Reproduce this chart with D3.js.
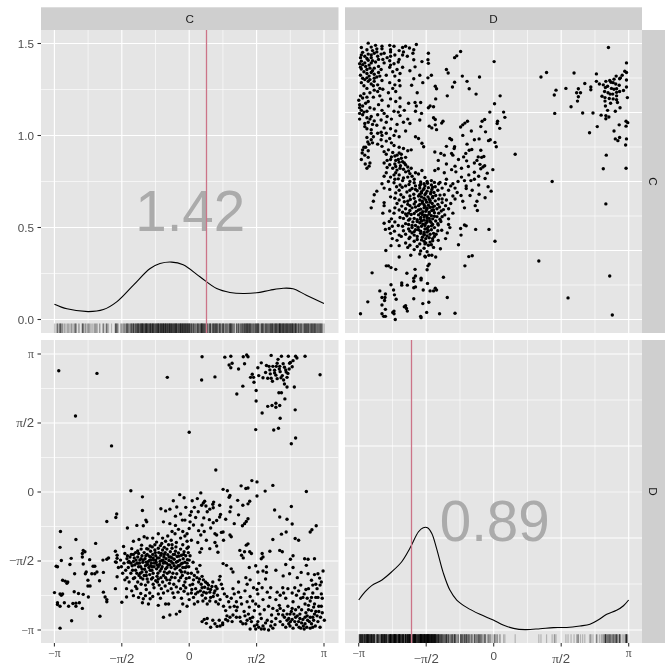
<!DOCTYPE html>
<html><head><meta charset="utf-8">
<script src="https://cdn.jsdelivr.net/npm/d3@7/dist/d3.min.js"></script>
<style>html,body{margin:0;padding:0;background:#fff}svg{display:block;filter:blur(0.35px)}</style>
</head><body><div id="c"></div>
<script>
const variables = ["C","D"];
const piTickLabels = ["−π","−π/2","0","π/2","π"];
const densityTicks = [0,0.5,1,1.5];
const correlations = {C:"1.42", D:"0.89"};
const meanLines = {C:0.41, D:-1.915};

const densityC = [[-3.14,.083],[-2.85,.058],[-2.35,.043],[-2.0,.054],[-1.69,.096],[-1.30,.187],[-.91,.277],[-.68,.304],[-.41,.312],[-.14,.297],[.25,.232],[.64,.168],[.95,.147],[1.26,.141],[1.57,.145],[1.88,.159],[2.19,.170],[2.42,.167],[2.73,.132],[3.14,.087]];
const densityD = [[-3.14,.163],[-2.99,.208],[-2.84,.241],[-2.6,.272],[-2.37,.317],[-2.14,.371],[-1.95,.444],[-1.75,.534],[-1.64,.556],[-1.54,.556],[-1.44,.525],[-1.33,.444],[-1.17,.308],[-1.02,.217],[-.86,.163],[-.63,.123],[-.32,.085],[-.01,.054],[.22,.027],[.46,.009],[.73,.002],[1.08,.007],[1.39,.013],[1.70,.014],[2.01,.022],[2.24,.031],[2.43,.054],[2.63,.085],[2.86,.107],[3.02,.132],[3.14,.163]];

// [C, D] observations, grouped by region of the picture
const topRightPairs = [[.30,3.08],[.29,2.55],[.60,2.62],[.83,3.07],[.97,3.09],[1.0,2.93],[.93,2.89],[.97,2.83],[1.15,2.80],[1.29,2.92],[1.26,3.08],[1.34,3.12],[1.37,3.08],[1.68,2.94],[1.60,2.83],[1.47,2.68],[1.43,2.61],[1.50,2.61],[1.51,2.50],[1.25,2.41],[1.11,2.23],[1.56,2.31],[1.56,2.07],[1.91,3.11],[1.86,2.86],[1.95,2.86],[2.03,2.86],[2.15,3.09],[2.31,3.09],[2.48,3.09],[2.51,3.05],[2.70,3.09],[2.42,2.99],[2.34,2.93],[2.22,2.84],[2.11,2.86],[2.07,3.02],[2.33,2.80],[2.26,2.73],[1.89,2.69],[1.99,2.77],[2.12,2.74],[2.17,2.65],[2.28,2.61],[1.83,2.59],[1.91,2.59],[2.05,2.58],[2.22,2.46],[2.28,2.39],[2.45,2.39],[2.15,2.26],[2.09,2.26],[2.23,2.12],[2.11,1.97],[2.02,2.02],[2.02,1.93],[1.93,1.97],[1.83,1.95],[1.70,1.80],[2.12,1.68],[2.47,1.87],[1.55,1.42],[1.97,1.41],[2.08,1.45],[2.48,1.23],[2.38,1.10],[3.05,2.67],[1.99,2.71],[2.2,2.55],[1.94,2.52],[2.36,2.95],[2.19,2.92],[1.78,2.72],[1.72,2.60],[2.1,2.8],[2.25,2.78],[2.02,2.66],[2.14,2.6],[1.88,2.78],[2.3,2.7],[2.4,2.85],[2.05,2.93],[1.8,2.88],[1.62,2.65]];
const isolatedPairs = [[-3.04,2.76],[-2.15,2.70],[-.51,2.61],[-2.65,1.73],[-1.81,1.05],[0,1.36],[.62,.50]];
const leftPairs = [[-3.0,-.90],[-3.01,-1.26],[-2.64,-1.08],[-2.75,-1.51],[-2.98,-1.56],[-3.10,-1.69],[-3.07,-1.70],[-2.78,-1.65],[-2.67,-1.86],[-2.95,-2.01],[-2.89,-2.03],[-2.83,-2.05],[-2.85,-2.08],[-2.68,-2.27],[-2.58,-2.31],[-2.47,-2.33],[-2.35,-2.39],[-3.14,-2.29],[-3.01,-2.32],[-2.95,-2.32],[-2.98,-2.35],[-3.07,-2.52],[-3.07,-2.56],[-3.01,-2.60],[-2.91,-2.52],[-2.81,-2.60],[-2.71,-2.54],[-2.64,-2.53],[-2.64,-2.60],[-2.56,-2.52],[-2.49,-2.65],[-2.74,-2.93],[-3.01,-3.10],[-2.08,-2.83],[-2.47,-1.33],[-2.43,-1.36],[-2.49,-1.40],[-2.49,-1.48],[-2.32,-1.54],[-2.18,-1.17],[-2.47,-1.64],[-2.20,-1.69],[-2.24,-1.69],[-2.40,-1.82],[-2.42,-1.86],[-2.36,-2.01],[-2.36,-2.14],[-2.27,-1.86],[-2.20,-1.86],[-2.09,-2.02],[-2.00,-1.83],[-2.00,-2.28],[-1.96,-2.39],[-1.92,-2.45],[-1.92,-2.50],[-2.01,-1.55],[-1.92,-1.53],[-1.88,-1.50],[-1.72,-1.35],[-1.68,-1.44],[-1.68,-1.51],[-1.72,-1.59],[-1.72,-2.20],[-1.68,-1.93],[-1.57,-2.51],[-1.46,-2.20],[-1.46,-2.39],[-1.30,-2.36],[-1.22,-2.20],[-1.07,-2.43],[-.91,-2.43],[-1.09,-2.52],[-1.30,-1.97],[-2.15,-1.82],[-2.31,-2.14],[-1.34,-2.25],[-1.13,-2.31],[-1.58,-1.7],[-1.7,-1.6],[-1.6,-1.55],[-1.65,-1.72],[-1.55,-1.85],[-1.5,-2.0],[-1.45,-1.95],[-1.4,-2.05],[-1.25,-2.15],[-1.18,-2.4],[-1.02,-2.36],[-.95,-2.55],[-.85,-2.38]];
const upperMidPairs = [[-1.36,.03],[-1.09,-.11],[-1.09,-.42],[-1.69,-.50],[-1.71,-.58],[-1.92,-.67],[-1.44,-.82],[-1.22,-.76],[-1.07,-.77],[-1.01,-.64],[-.99,-.68],[.79,.06],[.89,.03],[.95,-.08],[.93,-.12],[1.21,.14],[1.32,.08],[1.37,.09],[1.46,.26],[1.58,.23],[1.58,-.09],[1.77,.02],[1.95,.15],[2.73,.01],[2.38,-.33],[1.99,-.41],[2.11,-.57],[2.28,-.62],[2.40,-.73],[2.96,-.77],[2.86,-.86],[2.82,-.91],[2.47,-1.06],[2.55,-1.10],[2.26,-.91],[2.15,-.96],[1.95,-1.08],[-.22,-.06],[-.12,-.13],[.07,-.20],[.19,-.15],[.27,-.02],[.33,-.25],[.36,-.21],[.29,-.30],[.39,-.32],[.48,-.39],[.56,-.36],[.57,-.23],[.71,-.30],[.73,-.51],[.71,-.57],[.64,-.65],[.56,-.70],[.47,-.63],[.34,-.59],[.97,-.34],[.95,-.45],[1.13,-.19],[1.25,-.30],[1.37,-.27],[1.41,-.21],[1.15,-.52],[1.37,-.61],[1.33,-.67],[1.29,-.72],[1.24,-.77],[.79,-.91],[.75,-.92],[.95,-.98],[.98,-1.02],[.64,-.98],[.60,-.95],[.27,-.98],[-.37,-.20],[-.29,-.34],[-.45,-.39],[-.66,-.38],[-.55,-.43],[-.60,-.68],[-.32,-.76],[-.16,-.64],[-.10,-.64],[.02,-.68],[.02,-.53],[.05,-.45],[.21,-.45],[0,-.83],[-.32,-.55],[-.2,-.5],[.12,-.35],[.1,-.75],[.3,-.75],[-.45,-.72],[-.25,-.85],[-.05,-.95],[.22,-.88],[.4,-1.1],[-.15,-.9],[.55,-.28],[.42,-.45],[.85,-.62],[1.05,-.72],[.5,-.82],[.35,-.9],[-.08,-.35],[.15,-.58],[-.4,-.9],[.6,-1.15],[.8,-1.1],[.2,-1.15],[.05,-1.1]];
const centerPairs = [[-.76,-1.14],[-.64,-1.17],[-.91,-1.23],[-.99,-1.29],[-1.11,-1.21],[-1.17,-1.08],[-1.05,-1.02],[-.98,-1.05],[-1.30,-1.12],[-1.53,-1.24],[-1.34,-1.29],[-.85,-1.05],[-.72,-.95],[-.62,-1.05],[-.5,-1.0],[-.42,-1.1],[-.33,-.95],[-.2,-1.05],[-.1,-1.0],[-.05,-1.12],[-.55,-1.12],[-.4,-1.2],[-.3,-1.15],[-.15,-1.2],[-.02,-1.25],
[-1.5,-1.4],[-1.45,-1.52],[-1.52,-1.62],[-1.42,-1.72],[-1.48,-1.78],[-1.38,-1.48],[-1.35,-1.42],[-1.3,-1.58],[-1.33,-1.68],[-1.28,-1.5],[-1.25,-1.38],[-1.22,-1.62],[-1.25,-1.78],[-1.2,-1.48],[-1.18,-1.4],[-1.15,-1.55],[-1.18,-1.7],[-1.14,-1.85],[-1.12,-1.3],[-1.1,-1.45],[-1.08,-1.6],[-1.1,-1.75],[-1.05,-1.9],[-1.05,-1.38],[-1.03,-1.52],[-1.02,-1.68],[-1.0,-1.82],[-.98,-1.98],[-.98,-1.42],[-.96,-1.3],[-.95,-1.58],[-.94,-1.72],[-.92,-1.88],[-.9,-1.35],[-.9,-1.48],[-.88,-1.62],[-.87,-1.78],[-.86,-1.25],[-.85,-1.42],[-.83,-1.55],[-.82,-1.7],[-.8,-1.2],[-.8,-1.32],[-.78,-1.45],[-.77,-1.6],[-.76,-1.75],[-.75,-1.92],[-.74,-2.05],[-.72,-1.28],[-.71,-1.38],[-.7,-1.5],[-.69,-1.65],[-.68,-1.8],[-.67,-1.22],[-.66,-1.44],[-.64,-1.56],[-.63,-1.7],[-.62,-1.32],[-.6,-1.9],[-.59,-1.48],[-.58,-1.26],[-.57,-1.6],[-.56,-1.38],[-.55,-1.75],[-.54,-1.52],[-.52,-2.0],[-.52,-1.3],[-.5,-1.43],[-.49,-1.66],[-.48,-1.2],[-.47,-1.56],[-.46,-1.82],[-.44,-1.36],[-.43,-1.48],[-.42,-1.72],[-.41,-1.94],[-.4,-1.28],[-.38,-1.62],[-.37,-1.42],[-.36,-2.1],[-.35,-1.53],[-.33,-1.75],[-.32,-1.35],[-.31,-1.25],[-.3,-1.6],[-.29,-1.86],[-.28,-1.47],[-.26,-1.68],[-.25,-1.39],[-.24,-2.02],[-.22,-1.55],[-.21,-1.78],[-.2,-1.3],[-.19,-1.64],[-.18,-1.44],[-.16,-1.9],[-.15,-1.72],[-.14,-1.52],[-.13,-2.13],[-.12,-1.36],[-.1,-1.82],[-.1,-1.6],[-.08,-1.45],[-.07,-1.97],[-.06,-1.7],[-.05,-1.28],[-.04,-1.54],[-.03,-1.85],[-.02,-1.38],
[-1.42,-1.6],[-1.24,-1.55],[-1.17,-1.9],[-1.13,-1.95],[-1.08,-1.98],[-.96,-2.05],[-.88,-1.98],[-.84,-2.1],[-.82,-2.18],[-.78,-2.02],[-.7,-2.12],[-.65,-2.2],[-.62,-2.05],[-.56,-2.14],[-.5,-2.25],[-.46,-2.08],[-.42,-2.2],[-.38,-2.3],[-.3,-2.16],[-.26,-2.28],[-.2,-2.2],[-.12,-2.26],[-.08,-2.18],[-.03,-2.32],[-1.36,-1.85],[-1.27,-1.95],[-1.2,-2.05],[-1.12,-2.1],[-1.02,-2.12],[-1.0,-2.22],[-.92,-2.3],[-.72,-2.32],[-.6,-2.3],[-.67,-2.42],[-.55,-2.55],[-.15,-2.55],[-.35,-2.4],[-.18,-2.42],[-.6,-2.85],[-.45,-2.8],[-.3,-2.78],[-.22,-2.72],[-.05,-2.6],[0,-2.45],[-.72,-2.58],[-.48,-2.55],[-1.2,-1.62],[-.9,-1.68],[-.74,-1.5],[-.6,-1.62],[-.47,-1.48],[-.35,-1.68],[-.27,-1.58],[-.72,-1.7],[-.52,-1.72],[-.84,-1.5],[-.65,-1.4],[-.42,-1.58],[-.58,-1.82],[-.78,-1.55],[-.38,-1.85],[-.16,-1.62],[-.24,-1.46],[-1.0,-1.6],[-1.12,-1.52],[-.92,-1.55],
[-1.44,-1.45],[-1.4,-1.58],[-1.36,-1.62],[-1.32,-1.78],[-1.3,-1.42],[-1.27,-1.66],[-1.22,-1.85],[-1.2,-1.34],[-1.16,-1.62],[-1.13,-1.7],[-1.1,-1.82],[-1.07,-1.55],[-1.04,-1.76],[-1.01,-1.45],[-.97,-1.65],[-.93,-1.46],[-.91,-1.78],[-.89,-1.55],[-.86,-1.7],[-.84,-1.85],[-.81,-1.62],[-.79,-1.38],[-.75,-1.66],[-.73,-1.85],[-.68,-1.58],[-.65,-1.75],[-.61,-1.55],[-.58,-1.42],[-.53,-1.62],[-.51,-1.85],[-.45,-1.66],[-.4,-1.5],[-.34,-1.42],[-.29,-1.72],[-.23,-1.68],[-.18,-1.82],[-.13,-1.42],[-.09,-1.72],[-.05,-1.62],[-.01,-1.7],[-.55,-1.95],[-.66,-1.95],[-.72,-1.98],[-.85,-1.95],[-1.0,-1.9],[-.33,-1.95],[-.2,-1.95],[-.45,-2.0],[-.1,-2.05],[0,-1.55],[0,-1.95],[.02,-1.45]];
const lowerRightPairs = [[.09,-1.60],[.25,-1.67],[.17,-1.75],[.29,-1.29],[.25,-1.37],[.48,-1.29],[.64,-1.23],[.67,-1.37],[.79,-1.63],[.87,-1.67],[.98,-1.75],[1.02,-1.82],[1.18,-1.33],[1.22,-1.44],[1.26,-1.50],[1.33,-1.21],[1.37,-1.18],[1.29,-1.36],[1.41,-1.36],[1.45,-1.40],[1.70,-1.40],[1.72,-1.48],[1.88,-1.35],[2.11,-1.33],[2.17,-1.36],[2.42,-1.45],[2.36,-1.53],[2.69,-1.52],[2.77,-1.53],[2.92,-1.52],[1.72,-1.80],[1.80,-1.83],[1.68,-1.52],[1.60,-1.82],[1.80,-1.70],[2.02,-1.78],[2.19,-1.91],[2.34,-1.86],[2.61,-1.83],[2.73,-1.67],[2.77,-1.86],[2.85,-2.01],[3.0,-1.86],[3.12,-1.80],[3.04,-1.96],[2.92,-1.88],
[.1,-2.0],[.18,-1.95],[.08,-2.1],[.22,-2.05],[.15,-2.2],[.28,-2.1],[.33,-2.0],[.26,-2.25],[.36,-2.17],[.4,-2.3],[.45,-2.12],[.5,-2.22],[.55,-2.05],[.58,-2.3],[.62,-2.15],[.38,-2.42],[.5,-2.4],[.66,-2.35],[.7,-2.0],[.72,-1.92],[.42,-2.55],[.32,-2.48],[.2,-2.5],[.1,-2.4],[.12,-2.55],[.62,-2.5],[.68,-2.55],[.05,-2.3],
[.3,-2.95],[.4,-2.99],[.5,-3.08],[.42,-2.88],[.6,-3.0],[.65,-3.06],[.78,-2.98],[.78,-3.02],[.9,-2.93],[.88,-2.82],[.95,-2.85],[1.02,-2.8],[.85,-2.7],[.95,-2.62],[1.05,-2.6],[.92,-2.5],[.98,-2.42],[1.1,-2.5],[1.05,-2.32],[1.02,-2.2],[1.15,-2.28],[1.2,-2.4],[.88,-2.38],[.82,-2.32],[1.1,-2.7],[1.18,-2.85],[1.25,-3.0],[1.3,-2.82],[1.38,-2.78],[1.28,-2.72],[1.42,-2.88],[1.48,-2.85],[1.42,-3.12],[1.52,-3.05],[1.55,-3.12],[1.58,-3.02],[1.6,-2.95],[1.68,-2.88],[1.72,-3.05],[1.75,-3.12],[1.85,-3.14],[1.82,-2.92],[1.92,-2.95],[1.95,-3.1],[2.0,-3.02],[2.02,-2.88],
[1.35,-2.1],[1.3,-2.25],[1.42,-2.38],[1.48,-2.48],[1.58,-2.22],[1.6,-2.32],[1.55,-2.55],[1.62,-2.6],[1.72,-2.45],[1.75,-2.68],[1.82,-2.28],[1.9,-2.18],[1.88,-2.4],[1.95,-2.65],[2.02,-2.45],[2.05,-2.28],[2.1,-2.58],[2.12,-2.35],[2.18,-2.18],[2.2,-2.7],[2.25,-2.42],[2.3,-2.6],[2.35,-2.78],[2.42,-2.5],[2.46,-2.18],[2.5,-2.35],[2.55,-2.62],[2.6,-2.42],[2.6,-2.12],[2.68,-2.32],[2.7,-2.55],[2.78,-2.2],[2.82,-2.48],[2.88,-2.3],[2.92,-2.55],[2.95,-2.1],[3.0,-2.4],[3.05,-2.12],[3.08,-2.32],[3.1,-2.42],[3.02,-2.6],
[2.08,-2.78],[2.12,-2.95],[2.18,-3.02],[2.22,-2.85],[2.28,-2.92],[2.25,-3.08],[2.32,-3.0],[2.38,-2.72],[2.4,-2.9],[2.42,-3.1],[2.48,-2.85],[2.5,-3.02],[2.55,-2.95],[2.58,-2.78],[2.6,-3.1],[2.65,-2.9],[2.68,-3.12],[2.7,-3.0],[2.75,-2.82],[2.78,-2.68],[2.8,-2.95],[2.82,-3.1],[2.85,-2.7],[2.88,-2.85],[2.92,-2.78],[2.95,-2.72],[3.05,-3.08],[3.15,-2.92],[3.1,-2.75],[2.05,-2.7],[2.62,-2.68],[2.72,-2.75],[2.9,-2.62],[2.35,-3.05],[1.32,-1.95],[1.15,-2.05],[1.62,-2.08],[1.78,-1.98],[1.4,-1.72],[1.55,-1.68],
[.05,-1.85],[.12,-1.9],[.2,-1.82],[.24,-1.98],[.3,-1.92],[.38,-2.05],[.42,-2.08],[.3,-2.18],[.34,-2.28],[.2,-2.28],[.44,-2.2],[.48,-2.28],[.53,-2.15],[.56,-2.38],[.6,-2.25],[.65,-2.2],[.48,-2.48],[.3,-2.35],[.15,-2.32],[.02,-2.12],[.06,-2.22],[.75,-2.1],[.78,-2.2],[.72,-2.45],[.8,-2.6],
[.35,-2.9],[.55,-2.92],[.7,-2.92],[.72,-3.05],[.85,-2.9],[1.0,-2.95],[1.1,-2.85],[1.2,-2.95],[1.32,-3.0],[1.35,-2.92],[1.45,-2.95],[1.62,-3.08],[1.68,-3.12],[1.78,-2.98],[1.9,-3.05],[1.12,-2.62],[1.22,-2.55],[1.35,-2.5],[1.4,-2.62],[1.52,-2.7],[1.65,-2.78],[1.85,-2.6],[1.92,-2.8],[1.5,-2.18],[1.7,-2.18],[1.42,-2.0],
[2.12,-2.65],[2.18,-2.8],[2.28,-2.78],[2.32,-2.88],[2.36,-2.95],[2.44,-2.78],[2.46,-2.95],[2.52,-2.82],[2.56,-3.08],[2.58,-2.88],[2.62,-2.98],[2.66,-3.05],[2.7,-2.85],[2.74,-3.08],[2.76,-2.92],[2.82,-2.85],[2.85,-3.0],[2.88,-3.08],[2.9,-2.92],[2.94,-3.05],[2.98,-2.82],[3.0,-2.95],[3.02,-2.72],[3.06,-2.85],[3.08,-2.6],[2.95,-2.4],[2.85,-2.4],[2.75,-2.42],[2.65,-2.4],[2.72,-2.22],[2.55,-2.25],[2.4,-2.3],[2.3,-2.2],[2.2,-2.3],[2.4,-2.65],[2.48,-2.68],[2.78,-2.58],[2.98,-2.2],[3.08,-2.05],[2.88,-2.12],[2.52,-1.95],[2.42,-1.72],[2.25,-1.65]];

const observations = [...topRightPairs,...isolatedPairs,...leftPairs,...upperMidPairs,...centerPairs,...lowerRightPairs];
const C = observations.map(p=>p[0]);
const D = observations.map(p=>p[1]);
const rugAlpha = 0.22;

const PI = Math.PI;
const piTicks = [-PI,-PI/2,0,PI/2,PI];
const piMinor = [-3*PI/4,-PI/4,PI/4,3*PI/4];
const densityMinor = [.25,.75,1.25];

const W=672,H=672;
const colX=[41,345], colW=[297.5,297];
const rowY=[30,340], rowH=[303,303];
const svg=d3.select("#c").append("svg").attr("width",W).attr("height",H);
const sans="'Liberation Sans',Arial,sans-serif", serif="'Liberation Serif',serif";

const xScale=variables.map((v,i)=>d3.scaleLinear().domain([-PI,PI]).range(i==0?[54.4,324]:[358.7,628.7]));
const yPi=[d3.scaleLinear().domain([-PI,PI]).range([319.5,43.5]),d3.scaleLinear().domain([-PI,PI]).range([630,354])];
const yDens=[d3.scaleLinear().domain([0,1.5]).range([319.5,43.5]),d3.scaleLinear().domain([0,1.5]).range([630,354])];

variables.forEach((rv,r)=>variables.forEach((cv,c)=>{
  const g=svg.append("g");
  const x0=colX[c],x1=x0+colW[c],y0=rowY[r],y1=y0+rowH[r];
  g.append("rect").attr("x",x0).attr("y",y0).attr("width",x1-x0).attr("height",y1-y0).attr("fill","#E5E5E5");
  const diag=r===c, y=diag?yDens[r]:yPi[r];
  const yMaj=diag?densityTicks:piTicks, yMin=diag?densityMinor:piMinor;
  const hl=(v,w)=>g.append("line").attr("x1",x0).attr("x2",x1).attr("y1",y(v)).attr("y2",y(v)).attr("stroke","#fff").attr("stroke-width",w);
  const vl=(v,w)=>g.append("line").attr("y1",y0).attr("y2",y1).attr("x1",xScale[c](v)).attr("x2",xScale[c](v)).attr("stroke","#fff").attr("stroke-width",w);
  yMin.forEach(v=>hl(v,.6)); piMinor.forEach(v=>vl(v,.6));
  yMaj.forEach(v=>hl(v,1.15)); piTicks.forEach(v=>vl(v,1.15));
  const xs=xScale[c];
  if(diag){
    const vals=r===0?C:D;
    const rugTop=r===0?323.5:634.3;
    g.append("g").selectAll("line").data(vals).join("line")
      .attr("x1",d=>xs(d)).attr("x2",d=>xs(d)).attr("y1",rugTop).attr("y2",y1)
      .attr("stroke","#000").attr("stroke-opacity",rugAlpha).attr("stroke-width",1.2);
    const dens=r===0?densityC:densityD;
    g.append("path").attr("d",d3.line().x(d=>xs(d[0])).y(d=>y(d[1])).curve(d3.curveCatmullRom)(dens))
      .attr("fill","none").attr("stroke","#000").attr("stroke-width",1.1);
    g.append("text").attr("x",xs(0)+1).attr("y",y(0.592)).attr("dy","0.36em")
      .attr("text-anchor","middle").attr("font-family",sans).attr("font-size",56.5).attr("fill","#ABABAB")
      .text(correlations[cv]);
    const mx=Math.floor(xs(meanLines[cv]))+0.5;
    g.append("line").attr("x1",mx).attr("x2",mx).attr("y1",y0).attr("y2",y1)
      .attr("stroke","#CC7488").attr("stroke-width",1.3);
  } else {
    const px=r===0?D:C, py=r===0?C:D;
    g.append("g").selectAll("circle").data(px).join("circle")
      .attr("cx",d=>xs(d)).attr("cy",(d,i)=>y(py[i])).attr("r",1.7).attr("fill","#000");
  }
  if(r===0){
    svg.append("rect").attr("x",x0).attr("y",7.3).attr("width",x1-x0).attr("height",22.7).attr("fill","#CFCFCF");
    svg.append("text").attr("x",(x0+x1)/2).attr("y",19).attr("dy","0.36em").attr("text-anchor","middle")
      .attr("font-family",sans).attr("font-size",11.7).attr("fill","#1A1A1A").text(cv);
  }
  if(c===1){
    svg.append("rect").attr("x",x1).attr("y",y0).attr("width",23).attr("height",y1-y0).attr("fill","#CFCFCF");
    const cy=(y0+y1)/2, cx=x1+11.5;
    svg.append("text").attr("transform",`translate(${cx},${cy}) rotate(90)`).attr("dy","0.36em").attr("text-anchor","middle")
      .attr("font-family",sans).attr("font-size",11.7).attr("fill","#1A1A1A").text(rv);
  }
  if(c===0){
    yMaj.forEach((v,i)=>{
      svg.append("line").attr("x1",37.5).attr("x2",41).attr("y1",y(v)).attr("y2",y(v)).attr("stroke","#333").attr("stroke-width",1.07);
      const t=svg.append("text").attr("x",34).attr("y",y(v)).attr("text-anchor","end").attr("fill","#4D4D4D");
      if(diag){
        t.attr("dy","0.36em").attr("font-family",sans).attr("font-size",11.7).text(d3.format(".1f")(v));
      } else {
        piLabel(t,piTickLabels[i]);
        t.attr("dy",piTickLabels[i]==="0"?"0.36em":"0.3em");
      }
    });
  }
  if(r===1){
    piTicks.forEach((v,i)=>{
      const xp=xs(v);
      svg.append("line").attr("x1",xp).attr("x2",xp).attr("y1",643).attr("y2",646.5).attr("stroke","#333").attr("stroke-width",1.07);
      const lab=piTickLabels[i];
      const t=svg.append("text").attr("x",xp).attr("y",lab.includes("/")?662.5:lab==="0"?659.5:656.5).attr("text-anchor","middle").attr("fill","#4D4D4D");
      piLabel(t,lab);
    });
  }
}));

function piLabel(t,lab){
  t.attr("font-family",sans).attr("font-size",lab.includes("/")?13.2:11.7);
  [...lab].forEach(ch=>{
    const ts=t.append("tspan").text(ch);
    if(ch==="π"||ch==="−") ts.attr("font-family",serif);
  });
}
</script></body></html>
